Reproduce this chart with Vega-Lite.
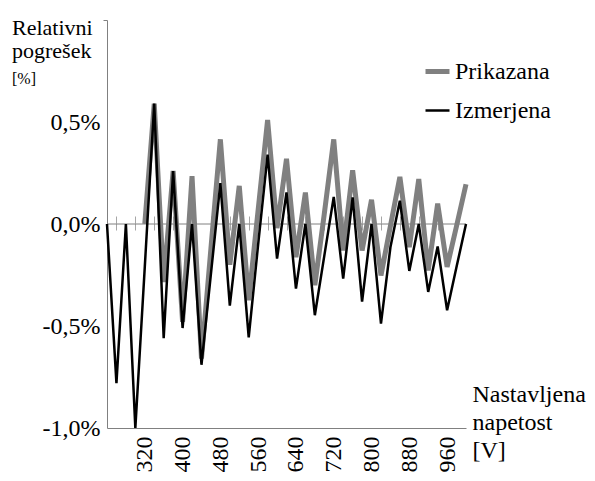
{
  "$schema": "https://vega.github.io/schema/vega-lite/v6.json",
  "width": 359,
  "height": 408,
  "autosize": "none",
  "padding": {"left": 107, "top": 20, "right": 129, "bottom": 53},
  "background": "white",
  "config": {
    "font": "Liberation Serif, serif",
    "view": {"stroke": null},
    "axis": {"labelFont": "Liberation Serif, serif", "titleFont": "Liberation Serif, serif", "labelColor": "black", "titleColor": "black", "titleFontWeight": "normal", "grid": false},
    "legend": {"labelFont": "Liberation Serif, serif"}
  },
  "title": {
    "text": ["Relativni", "pogrešek"],
    "subtitle": "[%]",
    "anchor": "start",
    "frame": "group",
    "orient": "top",
    "offset": 0,
    "dx": -95,
    "dy": 68,
    "font": "Liberation Serif, serif",
    "fontSize": 22,
    "fontWeight": "normal",
    "lineHeight": 23,
    "color": "black",
    "subtitleFont": "Liberation Serif, serif",
    "subtitleFontSize": 16,
    "subtitleColor": "black",
    "subtitlePadding": 8
  },
  "data": {
    "values": [
      {"V": 240, "Izmerjena": 0.0, "Prikazana": null},
      {"V": 260, "Izmerjena": -0.78, "Prikazana": null},
      {"V": 280, "Izmerjena": 0.0, "Prikazana": null},
      {"V": 300, "Izmerjena": -1.0, "Prikazana": null},
      {"V": 320, "Izmerjena": -0.21, "Prikazana": 0.0},
      {"V": 340, "Izmerjena": 0.59, "Prikazana": 0.59},
      {"V": 360, "Izmerjena": -0.56, "Prikazana": -0.285},
      {"V": 380, "Izmerjena": 0.26, "Prikazana": 0.26},
      {"V": 400, "Izmerjena": -0.51, "Prikazana": -0.48},
      {"V": 420, "Izmerjena": 0.0, "Prikazana": 0.235},
      {"V": 440, "Izmerjena": -0.69, "Prikazana": -0.66},
      {"V": 460, "Izmerjena": -0.245, "Prikazana": -0.12},
      {"V": 480, "Izmerjena": 0.2, "Prikazana": 0.415},
      {"V": 500, "Izmerjena": -0.4, "Prikazana": -0.2},
      {"V": 520, "Izmerjena": 0.0, "Prikazana": 0.187},
      {"V": 540, "Izmerjena": -0.556, "Prikazana": -0.374},
      {"V": 560, "Izmerjena": -0.1, "Prikazana": 0.07},
      {"V": 580, "Izmerjena": 0.34, "Prikazana": 0.51},
      {"V": 600, "Izmerjena": -0.17, "Prikazana": -0.02},
      {"V": 620, "Izmerjena": 0.155, "Prikazana": 0.32},
      {"V": 640, "Izmerjena": -0.317, "Prikazana": -0.163},
      {"V": 660, "Izmerjena": 0.0, "Prikazana": 0.154},
      {"V": 680, "Izmerjena": -0.447, "Prikazana": -0.3},
      {"V": 700, "Izmerjena": -0.156, "Prikazana": 0.05},
      {"V": 720, "Izmerjena": 0.133, "Prikazana": 0.415},
      {"V": 740, "Izmerjena": -0.268, "Prikazana": -0.13},
      {"V": 760, "Izmerjena": 0.13, "Prikazana": 0.263},
      {"V": 780, "Izmerjena": -0.38, "Prikazana": -0.13},
      {"V": 800, "Izmerjena": 0.0, "Prikazana": 0.119},
      {"V": 820, "Izmerjena": -0.488, "Prikazana": -0.252},
      {"V": 840, "Izmerjena": -0.114, "Prikazana": -0.01},
      {"V": 860, "Izmerjena": 0.114, "Prikazana": 0.231},
      {"V": 880, "Izmerjena": -0.23, "Prikazana": -0.114},
      {"V": 900, "Izmerjena": 0.0, "Prikazana": 0.22},
      {"V": 920, "Izmerjena": -0.333, "Prikazana": -0.228},
      {"V": 940, "Izmerjena": -0.11, "Prikazana": 0.1},
      {"V": 960, "Izmerjena": -0.423, "Prikazana": -0.21},
      {"V": 980, "Izmerjena": -0.21, "Prikazana": -0.01},
      {"V": 1000, "Izmerjena": 0.0, "Prikazana": 0.195}
    ]
  },
  "resolve": {"axis": {"x": "independent"}},
  "layer": [
    {
      "data": {"values": [{}]},
      "mark": {"type": "rule", "color": "#808080", "strokeWidth": 1},
      "encoding": {
        "x": {"datum": 240, "type": "quantitative", "scale": {"domain": [240, 1000], "nice": false},
          "axis": {"orient": "top", "offset": -203, "values": [260, 300, 340, 380, 420, 460, 500, 540, 580, 620, 660, 700, 740, 780, 820, 860, 900, 940, 980], "labels": false, "domain": false, "ticks": true, "tickSize": 7, "tickColor": "#a6a6a6", "title": null}},
        "x2": {"datum": 1000},
        "y": {"datum": 0, "type": "quantitative", "scale": {"domain": [-1, 1], "nice": false},
          "axis": {"orient": "left", "values": [-1, -0.5, 0, 0.5, 1], "labelExpr": "datum.value == 1 ? '' : (datum.value < 0 ? '-' : '') + replace(format(abs(datum.value), '.1f'), '.', ',') + '%'", "labelFontSize": 24, "labelPadding": 3, "tickSize": 4, "tickColor": {"condition": {"test": "datum.value == 1", "value": "#808080"}, "value": "transparent"}, "domainColor": "#808080", "title": null}}
      }
    },
    {
      "transform": [{"fold": ["Prikazana", "Izmerjena"], "as": ["series", "value"]}, {"filter": "datum.series == 'Prikazana'"}],
      "mark": {"type": "line"},
      "encoding": {
        "x": {"field": "V", "type": "quantitative", "scale": {"domain": [240, 1000], "nice": false},
          "axis": {"orient": "bottom", "offset": -205, "values": [260, 300, 340, 380, 420, 460, 500, 540, 580, 620, 660, 700, 740, 780, 820, 860, 900, 940, 980], "labels": false, "domain": false, "ticks": true, "tickSize": 7, "tickColor": "#a6a6a6", "title": null}},
        "y": {"field": "value", "type": "quantitative", "scale": {"domain": [-1, 1], "nice": false},
          "axis": {"orient": "left", "values": [-1, -0.5, 0, 0.5, 1], "labelExpr": "datum.value == 1 ? '' : (datum.value < 0 ? '-' : '') + replace(format(abs(datum.value), '.1f'), '.', ',') + '%'", "labelFontSize": 24, "labelPadding": 3, "tickSize": 4, "tickColor": {"condition": {"test": "datum.value == 1", "value": "#808080"}, "value": "transparent"}, "domainColor": "#808080", "title": null}},
        "color": {"field": "series", "type": "nominal", "scale": {"domain": ["Prikazana", "Izmerjena"], "range": ["#808080", "#000000"]},
          "legend": {"orient": "none", "legendX": 316, "legendY": 37, "title": null, "symbolType": "stroke", "symbolSize": 576, "labelFontSize": 24, "labelFont": "Liberation Serif, serif", "labelColor": "black", "labelOffset": 3, "rowPadding": 13, "padding": 0}},
        "strokeWidth": {"field": "series", "type": "nominal", "scale": {"domain": ["Prikazana", "Izmerjena"], "range": [5, 2.5]},
          "legend": {"orient": "none", "legendX": 316, "legendY": 37, "title": null, "symbolType": "stroke", "symbolSize": 576, "labelFontSize": 24, "labelFont": "Liberation Serif, serif", "labelColor": "black", "labelOffset": 3, "rowPadding": 13, "padding": 0}}
      }
    },
    {
      "transform": [{"fold": ["Prikazana", "Izmerjena"], "as": ["series", "value"]}, {"filter": "datum.series == 'Izmerjena'"}],
      "mark": {"type": "line"},
      "encoding": {
        "x": {"field": "V", "type": "quantitative", "scale": {"domain": [240, 1000], "nice": false},
          "axis": {"orient": "bottom", "values": [320, 400, 480, 560, 640, 720, 800, 880, 960], "labelAngle": -90, "labelFontSize": 24, "ticks": false, "labelPadding": 8, "domainColor": "#808080", "labelFlush": false, "labelOverlap": false,
            "title": ["Nastavljena", "napetost", "[V]"], "titleFontSize": 24, "titleAngle": 0, "titleAlign": "left", "titleBaseline": "alphabetic", "titleX": 365, "titleY": -27, "titleLineHeight": 28}},
        "y": {"field": "value", "type": "quantitative", "scale": {"domain": [-1, 1], "nice": false},
          "axis": {"orient": "left", "values": [-1, -0.5, 0, 0.5, 1], "labelExpr": "datum.value == 1 ? '' : (datum.value < 0 ? '-' : '') + replace(format(abs(datum.value), '.1f'), '.', ',') + '%'", "labelFontSize": 24, "labelPadding": 3, "tickSize": 4, "tickColor": {"condition": {"test": "datum.value == 1", "value": "#808080"}, "value": "transparent"}, "domainColor": "#808080", "title": null}},
        "color": {"field": "series", "type": "nominal", "scale": {"domain": ["Prikazana", "Izmerjena"], "range": ["#808080", "#000000"]},
          "legend": {"orient": "none", "legendX": 316, "legendY": 37, "title": null, "symbolType": "stroke", "symbolSize": 576, "labelFontSize": 24, "labelFont": "Liberation Serif, serif", "labelColor": "black", "labelOffset": 3, "rowPadding": 13, "padding": 0}},
        "strokeWidth": {"field": "series", "type": "nominal", "scale": {"domain": ["Prikazana", "Izmerjena"], "range": [5, 2.5]},
          "legend": {"orient": "none", "legendX": 316, "legendY": 37, "title": null, "symbolType": "stroke", "symbolSize": 576, "labelFontSize": 24, "labelFont": "Liberation Serif, serif", "labelColor": "black", "labelOffset": 3, "rowPadding": 13, "padding": 0}}
      }
    }
  ]
}
